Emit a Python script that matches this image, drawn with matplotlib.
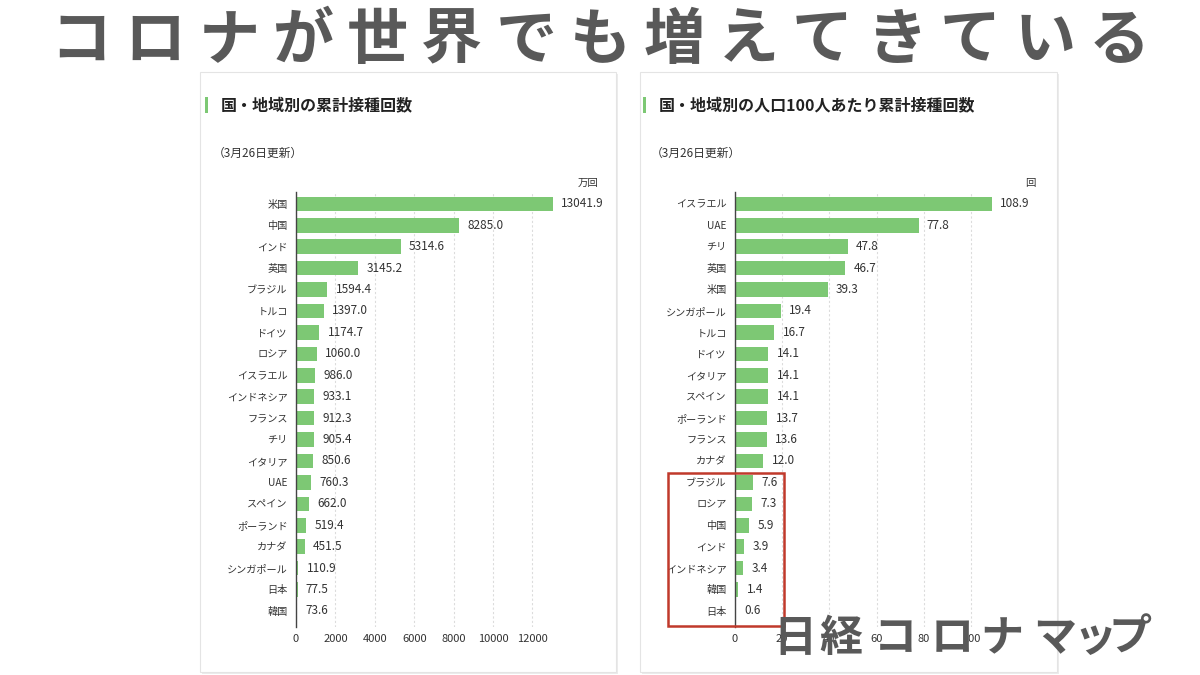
import matplotlib.pyplot as plt
from matplotlib.patches import Rectangle

plt.rcParams['font.family'] = ['Noto Sans CJK JP', 'DejaVu Sans']

left_cats = ['米国', '中国', 'インド', '英国', 'ブラジル', 'トルコ', 'ドイツ', 'ロシア', 'イスラエル', 'インドネシア',
             'フランス', 'チリ', 'イタリア', 'UAE', 'スペイン', 'ポーランド', 'カナダ', 'シンガポール', '日本', '韓国']
left_vals = [13041.9, 8285.0, 5314.6, 3145.2, 1594.4, 1397.0, 1174.7, 1060.0, 986.0, 933.1,
             912.3, 905.4, 850.6, 760.3, 662.0, 519.4, 451.5, 110.9, 77.5, 73.6]
left_ticks = [0, 2000, 4000, 6000, 8000, 10000, 12000]

right_cats = ['イスラエル', 'UAE', 'チリ', '英国', '米国', 'シンガポール', 'トルコ', 'ドイツ', 'イタリア', 'スペイン',
              'ポーランド', 'フランス', 'カナダ', 'ブラジル', 'ロシア', '中国', 'インド', 'インドネシア', '韓国', '日本']
right_vals = [108.9, 77.8, 47.8, 46.7, 39.3, 19.4, 16.7, 14.1, 14.1, 14.1,
              13.7, 13.6, 12.0, 7.6, 7.3, 5.9, 3.9, 3.4, 1.4, 0.6]
right_ticks = [0, 20, 40, 60, 80, 100]

headline = 'コロナが世界でも増えてきている'
caption = '日経コロナマップ'

W, H = 1200, 675
GREEN = '#7dc874'
TXT = '#333333'
GREY = '#595959'

fig = plt.figure(figsize=(12, 6.75), dpi=100)
fig.patch.set_facecolor('white')


def fx(x):
    return x / W


def fy(y):
    return 1 - y / H


# panels
for x0, x1 in [(200, 616), (640, 1057)]:
    fig.patches.append(Rectangle((fx(x0 + 2), fy(674)), fx(x1 - x0), (672 - 72) / H,
                                 transform=fig.transFigure, facecolor='#ececec', edgecolor='none', zorder=-2))
    fig.patches.append(Rectangle((fx(x0), fy(672)), fx(x1 - x0), (672 - 72) / H,
                                 transform=fig.transFigure, facecolor='white', edgecolor='#e4e4e4',
                                 linewidth=0.8, zorder=-1))


def draw(cats, vals, ticks, left_px, px_per_unit, xmax, unit, unit_x):
    top, bottom = 192, 627
    width = xmax * px_per_unit
    ax = fig.add_axes([fx(left_px), fy(bottom), width / W, (bottom - top) / H])
    y = list(range(len(cats)))
    bars = ax.barh(y, vals, height=0.68, color=GREEN, zorder=2)
    ax.bar_label(bars, labels=[f'{v:.1f}' for v in vals], padding=6, fontsize=8.5,
                 color=TXT, fontweight='normal')
    ax.set_ylim(len(cats) - 0.25, -0.55)
    ax.set_xlim(0, xmax)
    ax.set_yticks(y)
    ax.set_yticklabels(cats, fontsize=7.3, color=TXT)
    ax.set_xticks(ticks)
    ax.set_xticklabels([str(t) for t in ticks], fontsize=8, color=TXT)
    ax.tick_params(axis='y', length=0, pad=6)
    ax.tick_params(axis='x', length=0, pad=5)
    ax.grid(axis='x', linestyle=(0, (2, 2)), color='#dcdcdc', linewidth=0.8, zorder=0)
    for s in ['top', 'right', 'bottom']:
        ax.spines[s].set_visible(False)
    ax.spines['left'].set_color('#444444')
    ax.spines['left'].set_linewidth(1.0)
    ax.spines['left'].set_zorder(3)
    ax.patch.set_alpha(0)
    fig.text(fx(unit_x), fy(183), unit, ha='right', va='center', fontsize=7.5, color=TXT)
    return ax


draw(left_cats, left_vals, left_ticks, 296, 257 / 13041.9, 14000, '万回', 598)
draw(right_cats, right_vals, right_ticks, 735, 257 / 108.9, 118, '回', 1036)

# panel headers
for x0, title in [(205, '国・地域別の累計接種回数'), (643, '国・地域別の人口100人あたり累計接種回数')]:
    fig.patches.append(Rectangle((fx(x0), fy(113)), 3 / W, 16 / H, transform=fig.transFigure,
                                 facecolor=GREEN, edgecolor='none'))
    fig.text(fx(x0 + 16), fy(105), title, ha='left', va='center', fontsize=11.5,
             fontweight='bold', color='#222222')
    fig.text(fx(x0 + 8), fy(153), '（3月26日更新）', ha='left', va='center', fontsize=8.5, color=TXT)

# red highlight box
fig.patches.append(Rectangle((fx(668), fy(626)), fx(784 - 668), (626 - 473) / H,
                             transform=fig.transFigure, facecolor='none', edgecolor='#c0392b',
                             linewidth=1.8, zorder=5))

# headline, spaced out one character at a time
pitch = (1156 - 44) / len(headline)
for i, ch in enumerate(headline):
    fig.text(fx(44 + pitch * (i + 0.5)), fy(41), ch, ha='center', va='center',
             fontsize=44, fontweight='bold', color=GREY)

# caption over the right chart
cap_x = [795, 841, 895, 952, 1002, 1055, 1095, 1130]
for ch, cx in zip(caption, cap_x):
    fig.text(fx(cx), fy(638), ch, ha='center', va='center',
             fontsize=31, fontweight='bold', color=GREY, zorder=10)

fig.savefig('out.png', dpi=100)
